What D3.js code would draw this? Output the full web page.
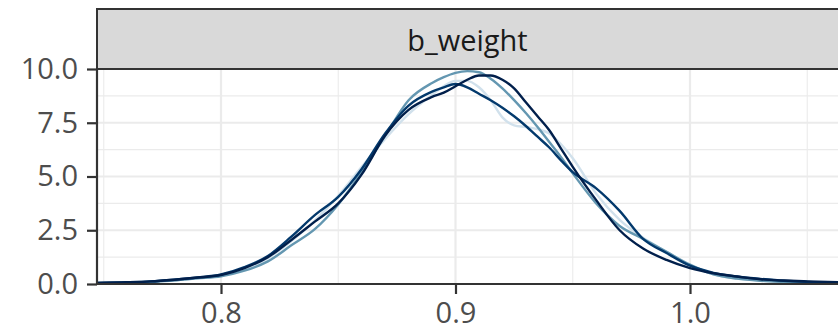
<!DOCTYPE html>
<html>
<head>
<meta charset="utf-8">
<script src="https://cdn.jsdelivr.net/npm/d3@7"></script>
<style>
  html, body { margin: 0; padding: 0; background: #ffffff; }
  svg { display: block; }
</style>
</head>
<body>
<div id="chart"></div>
<script>
// ---- data ----
const facetLabel = "b_weight";
const chains = ["1", "2", "3", "4"];
const chainColors = ["#d1e1ec", "#6497b1", "#03396c", "#011f4b"];
const xGrid = [0.745, 0.76, 0.77, 0.78, 0.79, 0.80, 0.81, 0.82, 0.83, 0.84, 0.85, 0.86, 0.87, 0.88, 0.89, 0.895, 0.90, 0.905, 0.91, 0.915, 0.92, 0.925, 0.93, 0.935, 0.94, 0.945, 0.95, 0.96, 0.97, 0.98, 0.99, 1.00, 1.01, 1.02, 1.03, 1.04, 1.05, 1.065];
const chain1 = [0.04, 0.07, 0.11, 0.18, 0.28, 0.40, 0.70, 1.20, 2.00, 2.95, 4.10, 5.45, 6.75, 7.90, 8.80, 9.20, 9.45, 9.45, 9.15, 8.55, 7.75, 7.38, 7.30, 7.20, 7.00, 6.50, 5.85, 4.20, 2.98, 2.15, 1.50, 0.85, 0.45, 0.25, 0.15, 0.10, 0.07, 0.05];
const chain2 = [0.03, 0.06, 0.10, 0.16, 0.26, 0.36, 0.62, 1.05, 1.80, 2.55, 3.70, 5.20, 6.90, 8.55, 9.35, 9.62, 9.82, 9.90, 9.85, 9.55, 9.10, 8.55, 7.95, 7.30, 6.60, 5.90, 5.15, 3.75, 2.70, 2.10, 1.50, 0.90, 0.45, 0.25, 0.15, 0.10, 0.07, 0.05];
const chain3 = [0.05, 0.08, 0.12, 0.20, 0.30, 0.44, 0.78, 1.30, 2.20, 3.20, 4.05, 5.35, 7.00, 8.30, 8.95, 9.15, 9.30, 9.15, 8.85, 8.55, 8.20, 7.80, 7.35, 6.85, 6.35, 5.75, 5.20, 4.45, 3.40, 2.10, 1.44, 0.85, 0.52, 0.35, 0.24, 0.15, 0.10, 0.06];
const chain4 = [0.05, 0.08, 0.12, 0.20, 0.30, 0.42, 0.74, 1.25, 2.05, 2.90, 3.75, 5.10, 6.90, 8.10, 8.70, 8.90, 9.20, 9.50, 9.70, 9.70, 9.50, 9.10, 8.45, 7.80, 7.15, 6.30, 5.45, 3.90, 2.50, 1.65, 1.12, 0.74, 0.50, 0.35, 0.22, 0.16, 0.12, 0.08];
const chainValues = [chain1, chain2, chain3, chain4];
const xTicks = [0.8, 0.9, 1.0];
const xMinor = [0.75, 0.85, 0.95, 1.05];
const yTicks = [0, 2.5, 5, 7.5, 10];
const yMinor = [1.25, 3.75, 6.25, 8.75];

// ---- layout ----
const W = 838, H = 329;
const panelLeft = 97, panelRight = 845;
const stripTop = 9, stripBottom = 69;
const panelTop = 69, panelBottom = 284;
const font = "'Open Sans', 'Noto Sans', sans-serif";
const fontSize = 29;

const svg = d3.select("#chart").append("svg")
  .attr("width", W).attr("height", H);

const x = d3.scaleLinear().domain([0.8, 1.0]).range([221, 690]);
const y = d3.scaleLinear().domain([0, 10]).range([panelBottom, panelTop]);

// clip
svg.append("clipPath").attr("id", "clip")
  .append("rect").attr("x", panelLeft).attr("y", panelTop)
  .attr("width", panelRight - panelLeft).attr("height", panelBottom - panelTop);

// panel background
svg.append("rect").attr("x", panelLeft).attr("y", panelTop)
  .attr("width", panelRight - panelLeft).attr("height", panelBottom - panelTop)
  .attr("fill", "#ffffff");

const grid = svg.append("g").attr("clip-path", "url(#clip)");
grid.selectAll("line.ymin").data(yMinor).join("line")
  .attr("x1", panelLeft).attr("x2", panelRight)
  .attr("y1", d => y(d)).attr("y2", d => y(d))
  .attr("stroke", "#EBEBEB").attr("stroke-width", 1.1);
grid.selectAll("line.xmin").data(xMinor).join("line")
  .attr("y1", panelTop).attr("y2", panelBottom)
  .attr("x1", d => x(d)).attr("x2", d => x(d))
  .attr("stroke", "#EBEBEB").attr("stroke-width", 1.1);
grid.selectAll("line.ymaj").data(yTicks).join("line")
  .attr("x1", panelLeft).attr("x2", panelRight)
  .attr("y1", d => y(d)).attr("y2", d => y(d))
  .attr("stroke", "#EBEBEB").attr("stroke-width", 2.2);
grid.selectAll("line.xmaj").data(xTicks).join("line")
  .attr("y1", panelTop).attr("y2", panelBottom)
  .attr("x1", d => x(d)).attr("x2", d => x(d))
  .attr("stroke", "#EBEBEB").attr("stroke-width", 2.2);

// density lines
const line = d3.line()
  .x(d => x(d[0])).y(d => y(d[1]))
  .curve(d3.curveMonotoneX);
const lines = svg.append("g").attr("clip-path", "url(#clip)");
chainValues.forEach((vals, i) => {
  const pts = xGrid.map((xv, j) => [xv, vals[j]]);
  lines.append("path")
    .attr("d", line(pts))
    .attr("fill", "none")
    .attr("stroke", chainColors[i])
    .attr("stroke-width", 2.4)
    .attr("stroke-linejoin", "round");
});

// strip
svg.append("rect").attr("x", panelLeft).attr("y", stripTop)
  .attr("width", panelRight - panelLeft).attr("height", stripBottom - stripTop)
  .attr("fill", "#D9D9D9").attr("stroke", "#333333").attr("stroke-width", 2);
svg.append("text")
  .attr("x", (panelLeft + 838) / 2).attr("y", (stripTop + stripBottom) / 2)
  .attr("text-anchor", "middle").attr("dominant-baseline", "central")
  .attr("font-family", font).attr("font-size", fontSize).attr("fill", "#1A1A1A")
  .text(facetLabel);

// axes
const yAxis = svg.append("g").attr("transform", `translate(${panelLeft},0)`)
  .call(d3.axisLeft(y).tickValues(yTicks).tickFormat(d3.format(".1f")).tickSize(10).tickPadding(9));
const xAxis = svg.append("g").attr("transform", `translate(0,${panelBottom})`)
  .call(d3.axisBottom(x).tickValues(xTicks).tickFormat(d3.format(".1f")).tickSize(10).tickPadding(8));
[yAxis, xAxis].forEach(g => {
  g.select(".domain").remove();
  g.selectAll(".tick line").attr("stroke", "#333333").attr("stroke-width", 2.2);
  g.selectAll(".tick text").attr("fill", "#4D4D4D")
    .attr("font-family", font).attr("font-size", fontSize);
});

// axis lines
svg.append("line").attr("x1", panelLeft).attr("x2", panelLeft)
  .attr("y1", panelTop).attr("y2", panelBottom + 1)
  .attr("stroke", "#333333").attr("stroke-width", 2.2);
svg.append("line").attr("x1", panelLeft - 1).attr("x2", panelRight)
  .attr("y1", panelBottom).attr("y2", panelBottom)
  .attr("stroke", "#333333").attr("stroke-width", 2.2);
</script>
</body>
</html>
